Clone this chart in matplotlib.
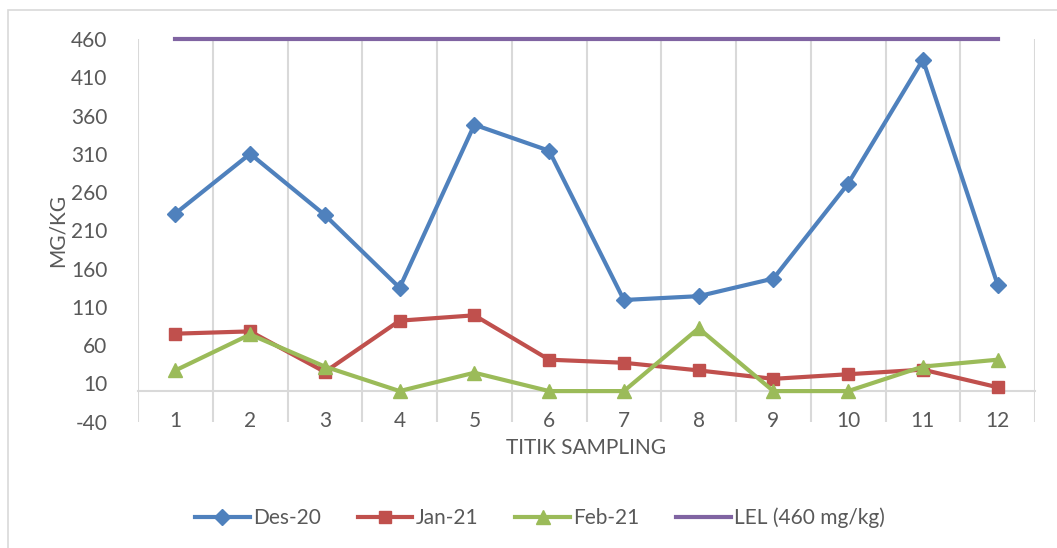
import matplotlib.pyplot as plt
from matplotlib.patches import Rectangle

plt.rcParams['font.family'] = ['Lato', 'DejaVu Sans']
plt.rcParams['axes.unicode_minus'] = False

titik = [1, 2, 3, 4, 5, 6, 7, 8, 9, 10, 11, 12]
des_20 = [232, 310, 230, 135, 348, 314, 119, 124, 147, 271, 433, 139]
jan_21 = [75, 78, 25, 92, 99, 41, 37, 27, 16, 22, 28, 5]
feb_21 = [27, 74, 32, 0, 24, 0, 0, 82, 0, 0, 32, 41]
lel = [460] * 12
y_ticks = list(range(-40, 461, 50))

teks = '#595959'
grid = '#D9D9D9'

fig = plt.figure(figsize=(10.57, 5.48), dpi=100)
fig.patches.append(Rectangle((8 / 1057, -0.05), 1.1, 1 - 10 / 548 + 0.05,
                             transform=fig.transFigure, fill=False,
                             edgecolor=grid, linewidth=1.2))
ax = fig.add_axes([138 / 1057, 1 - 421.7 / 548, (1035 - 138) / 1057, (421.7 - 39) / 548])

ax.plot(titik, des_20, color='#4F81BD', lw=3, marker='D', ms=8, label='Des-20', zorder=4)
ax.plot(titik, jan_21, color='#C0504D', lw=3, marker='s', ms=9, label='Jan-21', zorder=3)
ax.plot(titik, feb_21, color='#9BBB59', lw=3, marker='^', ms=10, label='Feb-21', zorder=5)
ax.plot(titik, lel, color='#8064A2', lw=3, label='LEL (460 mg/kg)', zorder=2, clip_on=False)

ax.set_xlim(0.5, 12.5)
ax.set_ylim(-40, 460)
ax.set_yticks(y_ticks)
ax.set_xticks(titik)
ax.set_xticks([i + 0.5 for i in range(0, 13)], minor=True)
ax.grid(which='minor', axis='x', color=grid, lw=1.5)
ax.tick_params(axis='x', which='both', length=0, pad=14, labelsize=15, labelcolor=teks)
ax.tick_params(axis='y', length=0, pad=22, labelsize=15, labelcolor=teks)

for s in ['left', 'right', 'top']:
    ax.spines[s].set_visible(False)
ax.spines['bottom'].set_position(('data', 0))
ax.spines['bottom'].set_color(grid)
ax.spines['bottom'].set_linewidth(1.5)

fig.text(58 / 1057, 1 - 230 / 548, 'MG/KG', rotation=90, ha='center', va='center',
         fontsize=15, color=teks)
fig.text(586 / 1057, 1 - 448 / 548, 'TITIK SAMPLING', ha='center', va='center',
         fontsize=15, color=teks)

leg = fig.legend(loc='center', bbox_to_anchor=(540 / 1057, 1 - 518 / 548), ncol=4,
                 frameon=False, fontsize=15, handlelength=2.6, handletextpad=0.15,
                 columnspacing=1.8)
for t in leg.get_texts():
    t.set_color(teks)

fig.savefig('out.png', dpi=100)
